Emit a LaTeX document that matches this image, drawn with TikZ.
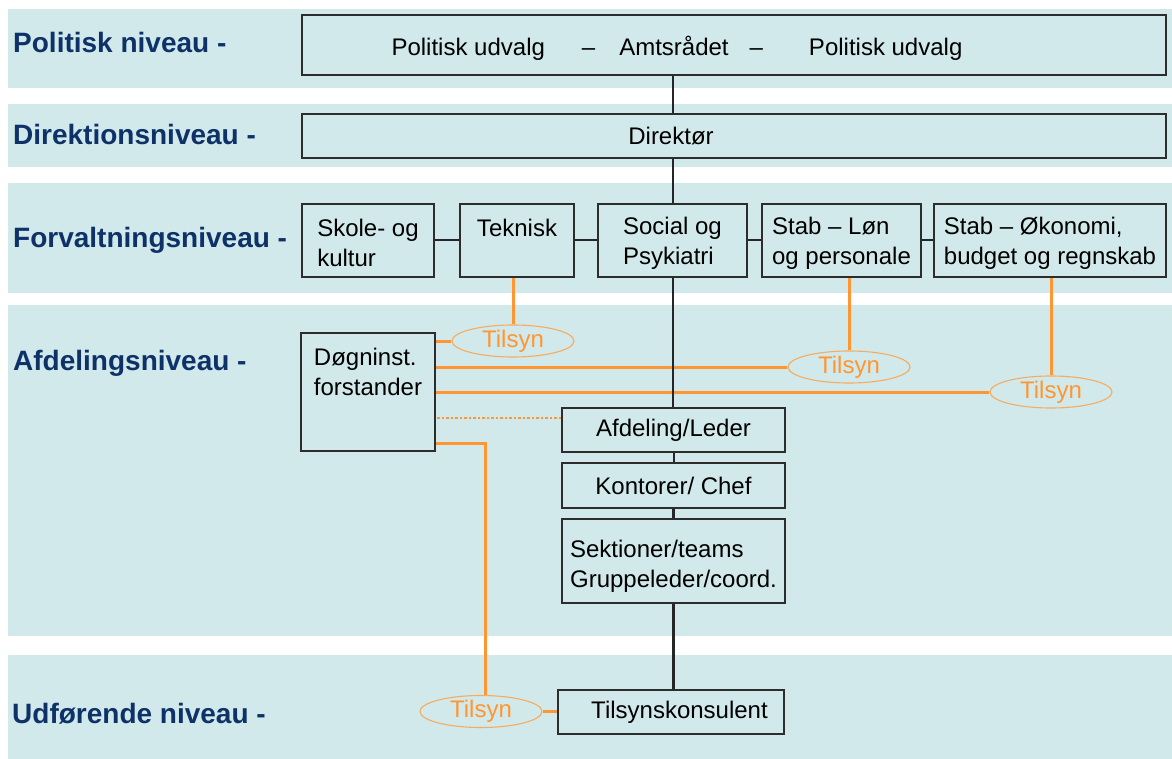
\documentclass[tikz,border=0pt]{standalone}
\usepackage{fontspec}
\setmainfont{Liberation Sans}
\usepackage{tikz}
\usetikzlibrary{shapes.geometric, positioning}

\definecolor{bandblue}{RGB}{209,233,234}
\definecolor{levelblue}{RGB}{14,50,104}
\definecolor{tilorange}{RGB}{255,150,50}
\definecolor{tiledge}{RGB}{246,172,96}
\definecolor{boxline}{RGB}{45,45,45}

\tikzset{
  band/.style={fill=bandblue},
  level/.style={anchor=base west, inner sep=0pt, text=levelblue,
    font=\fontsize{28}{34}\selectfont\bfseries},
  orgbox/.style={draw=boxline, line width=1.4pt, inner sep=0pt,
    font=\fontsize{24}{30}\selectfont},
  forvbox/.style={orgbox, align=left, minimum height=73pt, text height=53pt},
  tilsyn/.style={ellipse, draw=tiledge, line width=1.1pt, inner sep=0pt,
    text=tilorange, font=\fontsize{24}{30}\selectfont,
    minimum width=122pt, minimum height=32pt},
  orgline/.style={draw=black!85, line width=2pt},
  tilline/.style={draw=tilorange, line width=3pt}
}

\begin{document}
\begin{tikzpicture}[x=1pt, y=-1pt]
\useasboundingbox (0,0) rectangle (1172,759);

% niveauer
\foreach \t/\b in {9/88, 104/167, 183/293, 305/636, 655/759}
  \fill[band] (8,\t) rectangle (1172,\b);

\node[level] (lpol) at (13,53) {Politisk niveau -};
\node[level] (ldir) at (13,145) {Direktionsniveau -};
\node[level] (lfor) at (13,248) {Forvaltningsniveau -};
\node[level] (lafd) at (13,370) {Afdelingsniveau -};
\node[level] (ludf) at (12,723) {Udførende niveau -};

% kasser
\node[orgbox, minimum width=864pt, minimum height=60pt, text height=26pt] (pol) at (734,45)
  {Politisk udvalg\hspace{37pt}–\hspace{24pt}Amtsrådet\hspace{21pt}–\hspace{46pt}Politisk udvalg\hspace*{114pt}};
\node[orgbox, minimum width=864pt, minimum height=44pt] (dir) at (734,136)
  {Direktør\hspace*{126pt}};

\node[forvbox, minimum width=132pt] (skole) at (368,240.5) {Skole- og\\kultur};
\node[forvbox, minimum width=114pt] (tek) at (517,240.5) {Teknisk\\\mbox{}};
\node[forvbox, minimum width=149pt] (soc) at (672.5,240.5) {Social og\\Psykiatri};
\node[forvbox, minimum width=159pt] (lon) at (841.5,240.5) {Stab – Løn\\og personale};
\node[forvbox, minimum width=232pt] (oko) at (1050,240.5) {Stab – Økonomi,\\budget og regnskab};

\node[orgbox, align=left, minimum width=134pt, minimum height=118pt] (dog) at (368,392) {Døgninst.\\forstander\\[10pt]\mbox{}};

\node[orgbox, minimum width=223pt, minimum height=44pt] (afd) at (673.5,430) {Afdeling/Leder};
\node[orgbox, minimum width=223pt, minimum height=45pt] (kon) at (673.5,485.5) {Kontorer/ Chef};
\node[orgbox, align=left, minimum width=223pt, minimum height=84pt, text height=53pt, text depth=0pt] (sek) at (673.5,561) {Sektioner/teams\\Gruppeleder/coord.};
\node[orgbox, minimum width=226pt, minimum height=44pt] (tkon) at (671,712) {\hspace*{17pt}Tilsynskonsulent};

\node[tilsyn] (til1) at (513,341) {Tilsyn};
\node[tilsyn] (til2) at (849,367) {Tilsyn};
\node[tilsyn] (til3) at (1051,392) {Tilsyn};
\node[tilsyn] (til4) at (481,711.5) {Tilsyn};

% tilsyn
\draw[tilline] (til1.north |- tek.south) -- (til1.north);
\draw[tilline] (dog.east |- til1.west) -- (til1.west);
\draw[tilline] (til2.north |- lon.south) -- (til2.north);
\draw[tilline] (dog.east |- til2.west) -- (til2.west);
\draw[tilline] (til3.north |- oko.south) -- (til3.north);
\draw[tilline] (dog.east |- til3.west) -- (til3.west);
\draw[tilline, line width=2.5pt, dotted] ([yshift=12pt]afd.west) -- ([yshift=12pt]afd.west -| dog.east);
\draw[tilline] ([yshift=8pt]dog.south east) -| ([xshift=4pt]til4.north);
\draw[tilline] (til4.east) -- (til4.east -| tkon.west);

% linjen
\draw[orgline] (pol.south -| soc.north) -- (dir.north -| soc.north);
\draw[orgline] (dir.south -| soc.north) -- (soc.north);
\draw[orgline] (skole) -- (tek);
\draw[orgline] (tek) -- (soc);
\draw[orgline] (soc) -- (lon);
\draw[orgline] (lon) -- (oko);
\draw[orgline] (soc.south) -- (soc.south |- afd.north);
\draw[orgline] (afd) -- (kon);
\draw[orgline, line width=3.5pt] (kon) -- (sek);
\draw[orgline, line width=3.5pt] (sek.south) -- (sek.south |- tkon.north);
\end{tikzpicture}
\end{document}
